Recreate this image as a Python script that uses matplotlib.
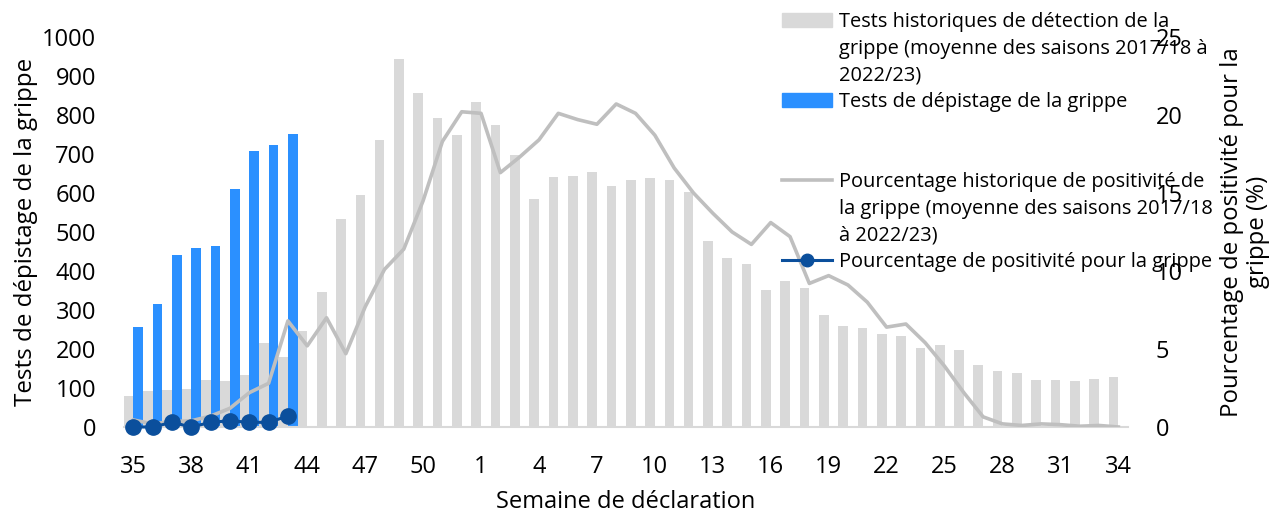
import matplotlib
matplotlib.use('Agg')
import matplotlib.pyplot as plt
from matplotlib.patches import Patch
from matplotlib.lines import Line2D
import numpy as np

plt.rcParams['font.family'] = ['Open Sans', 'DejaVu Sans']

# Semaines de déclaration (35 -> 52, puis 1 -> 34)
weeks = list(range(35, 53)) + list(range(1, 35))

# Tests historiques (moyenne 2017/18 à 2022/23)
hist_tests = [80, 92, 95, 98, 120, 118, 133, 216, 180, 247, 347, 532, 594, 735, 943, 856, 792, 748,
              833, 774, 697, 584, 640, 643, 653, 617, 632, 637, 634, 602, 478, 432, 417, 350, 373,
              357, 288, 260, 254, 239, 232, 203, 211, 198, 159, 144, 138, 121, 121, 118, 123, 128]

# Tests de la saison en cours (semaines 35 à 43)
cur_tests = [257, 316, 442, 458, 465, 609, 707, 722, 751]

# Pourcentage historique de positivité
hist_pos = [0.45, 0.2, 0.35, 0.4, 0.7, 1.2, 2.2, 2.8, 6.8, 5.2, 7.0, 4.7, 7.7, 10.1, 11.4, 14.5, 18.3, 20.2,
            20.1, 16.3, 17.3, 18.4, 20.1, 19.7, 19.4, 20.7, 20.1, 18.7, 16.6, 15.0, 13.7, 12.5, 11.7, 13.1, 12.2,
            9.2, 9.7, 9.1, 8.0, 6.4, 6.6, 5.4, 3.9, 2.2, 0.65, 0.2, 0.1, 0.2, 0.15, 0.05, 0.1, 0.0]

# Pourcentage de positivité de la saison en cours
cur_pos = [0.0, 0.0, 0.3, 0.0, 0.3, 0.4, 0.3, 0.3, 0.7]

grey_bar = '#d9d9d9'
blue_bar = '#2b90ff'
grey_line = '#bfbfbf'
dark_blue = '#0b4f9c'

x = np.arange(len(weeks))
xc = np.arange(len(cur_tests))

fig = plt.figure(figsize=(12.76, 5.12), dpi=100)
ax = fig.add_axes([0.097, 0.166, 0.787, 0.762])
ax2 = ax.twinx()

ax.bar(x - 0.25, hist_tests, width=0.5, color=grey_bar, zorder=1)
ax.bar(xc + 0.25, cur_tests, width=0.5, color=blue_bar, zorder=2)

ax2.plot(x, hist_pos, color=grey_line, lw=2.6, zorder=3)
ax2.plot(xc, cur_pos, color=dark_blue, lw=2.2, marker='o', markersize=11, clip_on=False, zorder=4)

ax.set_xlim(-0.5, len(weeks) - 0.5)
ax.set_ylim(0, 1000)
ax2.set_ylim(0, 25)
ax.set_yticks(range(0, 1001, 100))
ax2.set_yticks(range(0, 26, 5))
ax.set_xticks(x[::3])
ax.set_xticklabels([str(w) for w in weeks[::3]])

fs = 17
for a in (ax, ax2):
    for s in a.spines.values():
        s.set_visible(False)
    a.tick_params(length=0, labelsize=fs, colors='#000000')
ax.spines['bottom'].set_visible(True)
ax.spines['bottom'].set_color(grey_bar)
ax.spines['bottom'].set_linewidth(1.5)
ax.tick_params(axis='x', pad=20)
ax.tick_params(axis='y', pad=20)
ax2.tick_params(axis='y', pad=20)

ax.set_xlabel('Semaine de déclaration', fontsize=fs, labelpad=8)
ax.set_ylabel('Tests de dépistage de la grippe', fontsize=17.4, labelpad=3)
ax2.set_ylabel('Pourcentage de positivité pour la\ngrippe (%)', fontsize=17.3, labelpad=27,
               linespacing=1.1)

# Légende : une ligne par rangée pour aligner les symboles sur la première ligne
blank = Line2D([], [], color='none')
handles = [Patch(color=grey_bar), blank, blank,
           Patch(color=blue_bar), blank, blank,
           Line2D([], [], color=grey_line, lw=2.6), blank, blank,
           Line2D([], [], color=dark_blue, lw=2.2, marker='o', markersize=9)]
labels = ['Tests historiques de détection de la',
          'grippe (moyenne des saisons 2017/18 à',
          '2022/23)',
          'Tests de dépistage de la grippe', ' ', ' ',
          'Pourcentage historique de positivité de',
          'la grippe (moyenne des saisons 2017/18',
          'à 2022/23)',
          'Pourcentage de positivité pour la grippe']
leg = fig.legend(handles, labels, loc='upper left', bbox_to_anchor=(0.603, 1.0),
                 frameon=False, fontsize=14.4, handlelength=2.5, handletextpad=0.35,
                 labelspacing=0.33, borderpad=0.12)

fig.savefig('out.png', dpi=100)
